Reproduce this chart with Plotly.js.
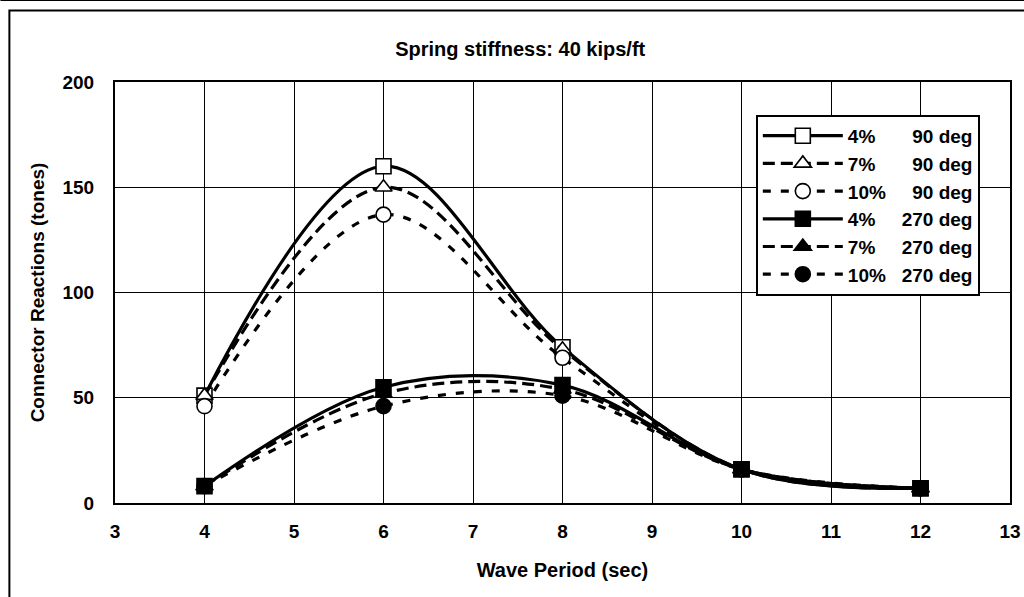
<!DOCTYPE html>
<html>
<head>
<meta charset="utf-8">
<script src="https://cdn.plot.ly/plotly-3.0.1.min.js"></script>
<style>html,body{margin:0;padding:0;background:#fff;}#chart{width:1024px;height:597px;}</style>
</head>
<body>
<div id="chart"></div>
<script>
const periods = [4, 6, 8, 10, 12];
const s4_90  = [51, 160, 74, 16, 7];
const s7_90  = [51, 150, 73, 16, 7];
const s10_90 = [46, 137, 69, 16, 7];
const s4_270  = [8, 55, 56, 16, 7];
const s7_270  = [8, 52, 54, 16, 7];
const s10_270 = [8, 46, 51, 16, 7];
const sp = n => '&nbsp;'.repeat(n);
const names = [
  "<b>4%" + sp(7) + "90 deg</b>",
  "<b>7%" + sp(7) + "90 deg</b>",
  "<b>10%" + sp(5) + "90 deg</b>",
  "<b>4%" + sp(5) + "270 deg</b>",
  "<b>7%" + sp(5) + "270 deg</b>",
  "<b>10%" + sp(3) + "270 deg</b>"
];
const xTicks = [3,4,5,6,7,8,9,10,11,12,13];

const font = "Liberation Sans, Arial, sans-serif";
function tr(y, name, sym, open, dash, grp) {
  return {
    x: periods, y: y, name: name, type: 'scatter', mode: 'lines+markers', legendgroup: grp,
    line: {shape: 'spline', smoothing: 1, color: '#000', width: 3.2, dash: dash},
    marker: {symbol: sym, size: 15, color: open ? '#fff' : '#000', line: {color: '#000', width: 1.6}}
  };
}
const data = [
  tr(s4_90, names[0], 'square', true, 'solid', 'a'),
  tr(s7_90, names[1], 'triangle-up', true, '12px,6px', 'b'),
  tr(s10_90, names[2], 'circle', true, '8px,10px', 'c'),
  tr(s4_270, names[3], 'square', false, 'solid', 'd'),
  tr(s7_270, names[4], 'triangle-up', false, '12px,6px', 'e'),
  tr(s10_270, names[5], 'circle', false, '8px,10px', 'f')
];
const layout = {
  width: 1024, height: 597,
  margin: {l: 115, r: 14, t: 82, b: 94},
  paper_bgcolor: '#fff', plot_bgcolor: '#fff',
  font: {family: font, color: '#000'},
  title: {text: '<b>Spring stiffness: 40 kips/ft</b>', font: {size: 20, family: font}, x: 0.508, xanchor: 'center', y: 0.918, yanchor: 'middle'},
  xaxis: {
    range: [3, 13], tickvals: xTicks, ticktext: xTicks.map(v => '<b>' + v + '</b>'),
    showgrid: true, gridcolor: '#000', gridwidth: 1,
    showline: true, linecolor: '#000', linewidth: 2, mirror: true,
    zeroline: false, ticks: '', tickfont: {size: 19, family: font}, ticklabelstandoff: 10,
    title: {text: '<b>Wave Period (sec)</b>', font: {size: 20, family: font}, standoff: 22}
  },
  yaxis: {
    range: [0, 200], tickvals: [0, 50, 100, 150, 200], ticktext: ['<b>0</b>','<b>50</b>','<b>100</b>','<b>150</b>','<b>200</b>'],
    showgrid: true, gridcolor: '#000', gridwidth: 1,
    showline: true, linecolor: '#000', linewidth: 2, mirror: true,
    zeroline: false, ticks: '', tickfont: {size: 19, family: font}, ticklabelstandoff: 15,
    title: {text: '<b>Connector Reactions (tones)</b>', font: {size: 19, family: font}, standoff: 13}
  },
  legend: {
    x: 0.716, y: 0.922, xanchor: 'left', yanchor: 'top',
    bgcolor: '#fff', bordercolor: '#000', borderwidth: 2,
    font: {size: 19, family: font}, itemwidth: 80, tracegroupgap: 0
  },
  showlegend: true,
  shapes: [
    {type: 'rect', xref: 'paper', yref: 'paper', x0: -0.118, x1: 1.05, y0: -0.24, y1: 1.17, line: {color: '#000', width: 2}},
    {type: 'line', xref: 'paper', yref: 'paper', x0: -0.128, x1: 1.05, y0: 1.195, y1: 1.195, line: {color: '#000', width: 2}}
  ]
};
Plotly.newPlot('chart', data, layout, {displayModeBar: false});
</script>
</body>
</html>
